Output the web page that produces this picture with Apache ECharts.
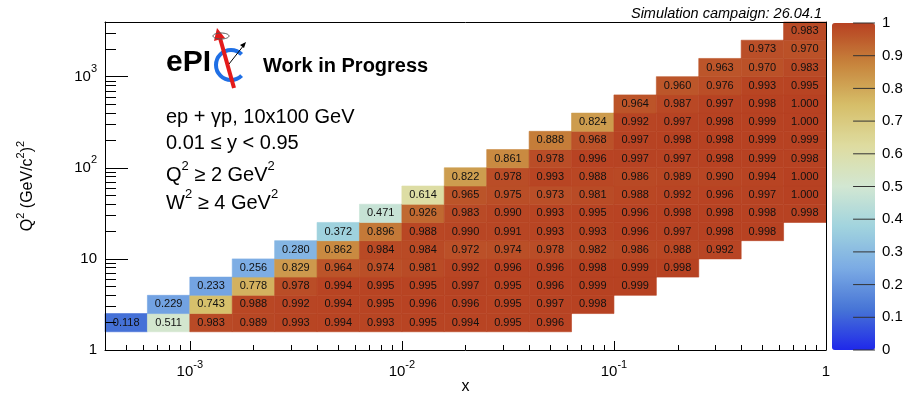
<!DOCTYPE html>
<html>
<head>
  <meta charset="utf-8" />
  <title>ePIC x-Q2 efficiency</title>
  <style>
    html, body { margin: 0; padding: 0; background: #ffffff; }
    #chart { width: 924px; height: 396px; }
  </style>
</head>
<body>
  <div id="chart"></div>
  <script src="https://cdn.jsdelivr.net/npm/echarts@6/dist/echarts.min.js"></script>
  <script>
    // bin edges (log10), 5 bins per decade
    var xLogEdges = [-3.4, -3.2, -3.0, -2.8, -2.6, -2.4, -2.2, -2.0, -1.8, -1.6, -1.4, -1.2, -1.0, -0.8, -0.6, -0.4, -0.2, 0.0];
    var yLogEdges = [0.2, 0.4, 0.6, 0.8, 1.0, 1.2, 1.4, 1.6, 1.8, 2.0, 2.2, 2.4, 2.6, 2.8, 3.0, 3.2, 3.4, 3.6];

    // first filled x bin of each Q2 row (bottom row first)
    var firstCol = [0, 1, 2, 3, 4, 5, 6, 7, 8, 9, 10, 11, 12, 13, 14, 15, 16];
    var effRows = [
      [0.118, 0.511, 0.983, 0.989, 0.993, 0.994, 0.993, 0.995, 0.994, 0.995, 0.996],
      [0.229, 0.743, 0.988, 0.992, 0.994, 0.995, 0.996, 0.996, 0.995, 0.997, 0.998],
      [0.233, 0.778, 0.978, 0.994, 0.995, 0.995, 0.997, 0.995, 0.996, 0.999, 0.999],
      [0.256, 0.829, 0.964, 0.974, 0.981, 0.992, 0.996, 0.996, 0.998, 0.999, 0.998],
      [0.280, 0.862, 0.984, 0.984, 0.972, 0.974, 0.978, 0.982, 0.986, 0.988, 0.992],
      [0.372, 0.896, 0.988, 0.990, 0.991, 0.993, 0.993, 0.996, 0.997, 0.998, 0.998],
      [0.471, 0.926, 0.983, 0.990, 0.993, 0.995, 0.996, 0.998, 0.998, 0.998, 0.998],
      [0.614, 0.965, 0.975, 0.973, 0.981, 0.988, 0.992, 0.996, 0.997, 1.000],
      [0.822, 0.978, 0.993, 0.988, 0.986, 0.989, 0.990, 0.994, 1.000],
      [0.861, 0.978, 0.996, 0.997, 0.997, 0.998, 0.999, 0.998],
      [0.888, 0.968, 0.997, 0.998, 0.998, 0.999, 0.999],
      [0.824, 0.992, 0.997, 0.998, 0.999, 1.000],
      [0.964, 0.987, 0.997, 0.998, 1.000],
      [0.960, 0.976, 0.993, 0.995],
      [0.963, 0.970, 0.983],
      [0.973, 0.970],
      [0.983]
    ];

    var xMajor = [0.001, 0.01, 0.1, 1];
    var yMajor = [1, 10, 100, 1000];
    var minorMult = [2, 3, 4, 5, 6, 7, 8, 9];
    var zTicks = [0, 0.1, 0.2, 0.3, 0.4, 0.5, 0.6, 0.7, 0.8, 0.9, 1];

    // ROOT light temperature palette
    var palette = ['#1f28ea', '#4775d6', '#7babe4', '#a0d3de', '#d2e7d2', '#dedca0', '#d6be69', '#c7843c', '#b74122'];

    var FONT = '"Liberation Sans", Arial, Helvetica, sans-serif';

    var xMin = Math.pow(10, xLogEdges[0]), xMax = Math.pow(10, xLogEdges[xLogEdges.length - 1]);
    var yMin = 1, yMax = Math.pow(10, yLogEdges[yLogEdges.length - 1]);

    function minorTicks(decades, lo, hi) {
      var out = [];
      for (var i = 0; i < decades.length; i++) {
        for (var j = 0; j < minorMult.length; j++) {
          var v = decades[i] * minorMult[j];
          if (v > lo && v < hi) out.push(v);
        }
      }
      return out;
    }
    var xMinor = minorTicks([0.0001, 0.001, 0.01, 0.1], xMin * 1.001, xMax);
    var yMinor = minorTicks([1, 10, 100, 1000], yMin, yMax);

    var cells = [];
    for (var r = 0; r < effRows.length; r++) {
      for (var k = 0; k < effRows[r].length; k++) {
        var c = firstCol[r] + k;
        cells.push([
          Math.pow(10, xLogEdges[c]), Math.pow(10, xLogEdges[c + 1]),
          Math.pow(10, yLogEdges[r]), Math.pow(10, yLogEdges[r + 1]),
          effRows[r][k]
        ]);
      }
    }

    var supRich = {
      b: { fontSize: 15, lineHeight: 26, fontFamily: FONT, color: '#000' },
      s: { fontSize: 11, lineHeight: 11, verticalAlign: 'top', fontFamily: FONT, color: '#000' }
    };
    var textRich = {
      b: { fontSize: 20, lineHeight: 30, fontFamily: FONT, color: '#000' },
      s: { fontSize: 13, lineHeight: 13, verticalAlign: 'top', fontFamily: FONT, color: '#000' }
    };
    var titleRich = {
      b: { fontSize: 16, lineHeight: 26, fontFamily: FONT, color: '#000' },
      s: { fontSize: 11, lineHeight: 11, verticalAlign: 'top', fontFamily: FONT, color: '#000' }
    };
    function powLabel(v) {
      var e = Math.round(Math.log(v) / Math.LN10);
      if (e === 0) return '{b|1}';
      if (e === 1) return '{b|10}';
      return '{b|10}{s|' + e + '}';
    }

    function renderCell(params, api) {
      var p0 = api.coord([api.value(0), api.value(3)]);
      var p1 = api.coord([api.value(1), api.value(2)]);
      var color = api.visual('color');
      return {
        type: 'rect',
        shape: { x: p0[0], y: p0[1], width: p1[0] - p0[0], height: p1[1] - p0[1] },
        style: { fill: color, stroke: color, lineWidth: 0.6 },
        textContent: {
          style: { text: api.value(4).toFixed(3), fill: '#111', font: '11px ' + FONT }
        },
        textConfig: { position: 'inside' }
      };
    }

    // tick marks on the right half of the colour bar
    function renderBarTick(params, api) {
      var a = api.coord([0.49, api.value(1)]);
      var b = api.coord([1, api.value(1)]);
      return {
        type: 'line',
        shape: { x1: a[0], y1: a[1], x2: b[0], y2: b[1] },
        style: { stroke: '#333', lineWidth: 1 }
      };
    }

    var axisLineStyle = { color: '#000', width: 1 };

    var chart = echarts.init(document.getElementById('chart'));
    var option = {
      animation: false,
      backgroundColor: '#ffffff',
      grid: [
        { left: 105, top: 22, width: 721, height: 328, show: false, containLabel: false, outerBoundsMode: 'none' },
        { left: 832, top: 23, width: 43, height: 327, show: false, containLabel: false, outerBoundsMode: 'none' }
      ],
      xAxis: [
        {
          type: 'log', gridIndex: 0, position: 'bottom', min: xMin, max: xMax, z: 5,
          axisLine: { show: true, onZero: false, lineStyle: axisLineStyle },
          axisTick: { show: true, inside: true, length: 9, customValues: xMajor, lineStyle: axisLineStyle },
          axisLabel: { customValues: xMajor, formatter: powLabel, margin: 9, rich: supRich },
          splitLine: { show: false },
          name: 'x', nameLocation: 'middle', nameGap: 29, nameMoveOverlap: false,
          nameTextStyle: { fontSize: 16, fontFamily: FONT, color: '#000' }
        },
        {
          type: 'log', gridIndex: 0, position: 'bottom', min: xMin, max: xMax, z: 5,
          axisLine: { show: false, onZero: false },
          axisTick: { show: true, inside: true, length: 5, customValues: xMinor, lineStyle: axisLineStyle },
          axisLabel: { show: false },
          splitLine: { show: false }
        },
        {
          type: 'log', gridIndex: 0, position: 'top', min: xMin, max: xMax, z: 5,
          axisLine: { show: true, onZero: false, lineStyle: axisLineStyle },
          axisTick: { show: false }, axisLabel: { show: false }, splitLine: { show: false }
        },
        { type: 'value', gridIndex: 1, min: 0, max: 1, show: false }
      ],
      yAxis: [
        {
          type: 'log', gridIndex: 0, position: 'left', min: yMin, max: yMax, z: 5,
          axisLine: { show: true, onZero: false, lineStyle: axisLineStyle },
          axisTick: { show: true, inside: true, length: 23, customValues: yMajor, lineStyle: axisLineStyle },
          axisLabel: { customValues: yMajor, formatter: powLabel, margin: 8, rich: supRich },
          splitLine: { show: false },
          name: '{b|Q}{s|2}{b| (GeV/c}{s|2}{b|)}{s|2}', nameLocation: 'middle', nameGap: 64, nameRotate: 90,
          nameMoveOverlap: false,
          nameTextStyle: { rich: titleRich }
        },
        {
          type: 'log', gridIndex: 0, position: 'left', min: yMin, max: yMax, z: 5,
          axisLine: { show: false, onZero: false },
          axisTick: { show: true, inside: true, length: 11, customValues: yMinor, lineStyle: axisLineStyle },
          axisLabel: { show: false },
          splitLine: { show: false }
        },
        {
          type: 'log', gridIndex: 0, position: 'right', min: yMin, max: yMax, z: 5,
          axisLine: { show: true, onZero: false, lineStyle: axisLineStyle },
          axisTick: { show: false }, axisLabel: { show: false }, splitLine: { show: false }
        },
        // colour bar scale
        {
          type: 'value', gridIndex: 1, position: 'right', min: 0, max: 1, z: 10,
          axisLine: { show: false },
          axisTick: { show: false },
          axisLabel: { customValues: zTicks, margin: 7, fontSize: 15, fontFamily: FONT, color: '#000',
            formatter: function (v) { return String(Math.round(v * 10) / 10); } },
          splitLine: { show: false }
        }
      ],
      visualMap: {
        type: 'continuous',
        seriesIndex: 0,
        dimension: 4,
        min: 0,
        max: 1,
        calculable: false,
        hoverLink: false,
        orient: 'vertical',
        left: 832,
        top: 23,
        padding: 0,
        itemWidth: 43,
        itemHeight: 327,
        z: 2,
        inRange: { color: palette }
      },
      graphic: [
        { type: 'text', x: 822, y: 14, style: { text: 'Simulation campaign: 26.04.1', align: 'right', verticalAlign: 'middle', font: 'italic 14.5px ' + FONT, fill: '#000' } },
        // ePIC logo
        { type: 'text', x: 166, y: 63, style: { text: 'ePI', verticalAlign: 'middle', font: 'bold 30px ' + FONT, fill: '#000' } },
        { type: 'arc', shape: { cx: 231, cy: 65, r: 15, startAngle: Math.PI * 0.25, endAngle: Math.PI * 1.75, clockwise: true }, style: { stroke: '#1f6fe5', lineWidth: 4, fill: null } },
        { type: 'line', shape: { x1: 229, y1: 64, x2: 244, y2: 45 }, style: { stroke: '#000', lineWidth: 1 } },
        { type: 'polygon', shape: { points: [[246, 42], [240, 45], [244, 48]] }, style: { fill: '#000' } },
        { type: 'line', shape: { x1: 234, y1: 88, x2: 220, y2: 38 }, style: { stroke: '#e31a1a', lineWidth: 4 } },
        { type: 'polygon', shape: { points: [[217, 28], [214, 41], [225, 38]] }, style: { fill: '#e31a1a' } },
        { type: 'ellipse', shape: { cx: 221, cy: 36, rx: 8, ry: 3 }, style: { stroke: '#555', fill: null, lineWidth: 1 } },
        { type: 'text', x: 263, y: 66, style: { text: 'Work in Progress', verticalAlign: 'middle', font: 'bold 20px ' + FONT, fill: '#000' } },
        // selection text
        { type: 'text', x: 166, y: 117, style: { text: 'ep + \u03b3p, 10x100 GeV', verticalAlign: 'middle', font: '20px ' + FONT, fill: '#000' } },
        { type: 'text', x: 166, y: 143, style: { text: '0.01 \u2264 y < 0.95', verticalAlign: 'middle', font: '20px ' + FONT, fill: '#000' } },
        { type: 'text', x: 166, y: 175, style: { text: '{b|Q}{s|2}{b| \u2265 2 GeV}{s|2}', verticalAlign: 'middle', rich: textRich } },
        { type: 'text', x: 166, y: 203, style: { text: '{b|W}{s|2}{b| \u2265 4 GeV}{s|2}', verticalAlign: 'middle', rich: textRich } }
      ],
      series: [{
        type: 'custom',
        xAxisIndex: 0,
        yAxisIndex: 0,
        renderItem: renderCell,
        encode: { x: [0, 1], y: [2, 3], tooltip: 4 },
        data: cells,
        z: 2
      }, {
        type: 'custom',
        xAxisIndex: 3,
        yAxisIndex: 3,
        renderItem: renderBarTick,
        encode: { x: 0, y: 1 },
        data: zTicks.map(function (v) { return [1, v]; }),
        silent: true,
        z: 10
      }]
    };
    chart.setOption(option);
  </script>
</body>
</html>
